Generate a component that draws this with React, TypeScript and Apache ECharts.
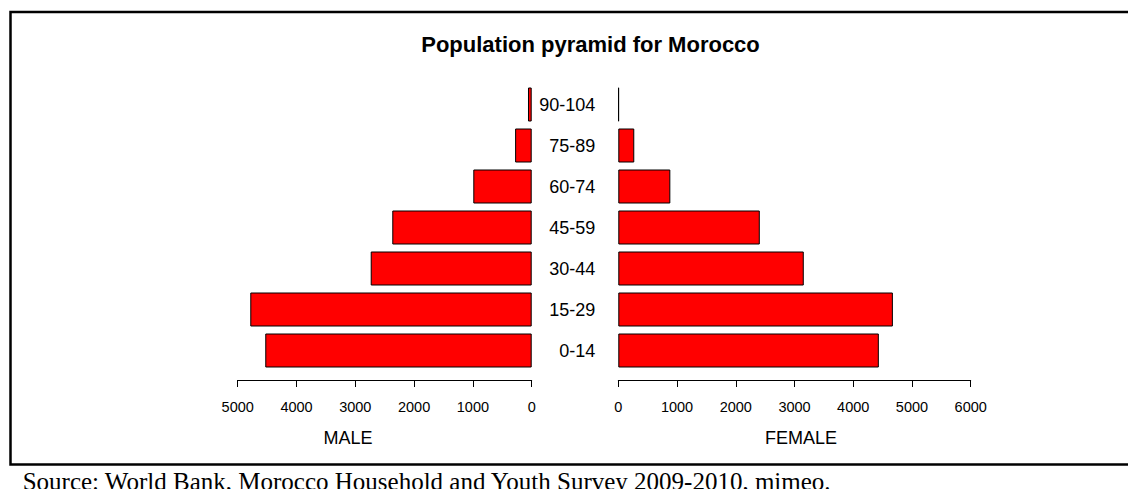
import React, { useEffect, useRef } from "react";
import * as echarts from "echarts";

const ageGroups = ["0-14", "15-29", "30-44", "45-59", "60-74", "75-89", "90-104"];
const maleValues = [4531, 4786, 2738, 2371, 993, 282, 63];
const femaleValues = [4436, 4675, 3158, 2409, 886, 272, 10];
const maleAxisMax = 5000;
const femaleAxisMax = 6000;
const tickStep = 1000;
const titleText = "Population pyramid for Morocco";
const maleLabel = "MALE";
const femaleLabel = "FEMALE";
const sourceText = "Source: World Bank, Morocco Household and Youth Survey 2009-2010, mimeo.";

const SANS = "'Liberation Sans', Arial, sans-serif";
const SERIF = "'Liberation Serif', 'Times New Roman', serif";

export default function App() {
  const ref = useRef<HTMLDivElement>(null);
  useEffect(() => {
    if (!ref.current) return;
    const chart = echarts.init(ref.current, undefined, { renderer: "svg" });
    const xAxisCommon = {
      type: "value" as const,
      min: 0,
      interval: tickStep,
      position: "bottom" as const,
      offset: 9,
      splitLine: { show: false },
      axisLine: { show: true, lineStyle: { color: "#000", width: 1 } },
      axisTick: { show: true, inside: false, length: 7, lineStyle: { color: "#000", width: 1 } },
      axisLabel: {
        color: "#000",
        fontSize: 14.5,
        fontFamily: SANS,
        margin: 19,
        formatter: (v: number) => String(v),
      },
    };
    const barStyle = { color: "#ff0000", borderColor: "#000", borderWidth: 1 };
    chart.setOption({
      animation: false,
      backgroundColor: "#fff",
      grid: [
        { left: 237.7, width: 294, top: 84, height: 287 },
        { left: 618.3, width: 352.4, top: 84, height: 287 },
      ],
      xAxis: [
        { ...xAxisCommon, gridIndex: 0, max: maleAxisMax, inverse: true },
        { ...xAxisCommon, gridIndex: 1, max: femaleAxisMax },
      ],
      yAxis: [
        {
          type: "category",
          gridIndex: 0,
          data: ageGroups,
          axisLine: { show: false },
          axisTick: { show: false },
          axisLabel: { show: false },
          splitLine: { show: false },
        },
        {
          type: "category",
          gridIndex: 1,
          data: ageGroups,
          axisLine: { show: false },
          axisTick: { show: false },
          axisLabel: { show: true, color: "#000", fontSize: 18, fontFamily: SANS, margin: 23 },
          splitLine: { show: false },
        },
      ],
      series: [
        {
          type: "bar",
          name: "Male",
          xAxisIndex: 0,
          yAxisIndex: 0,
          data: maleValues,
          barWidth: 34,
          itemStyle: barStyle,
        },
        {
          type: "bar",
          name: "Female",
          xAxisIndex: 1,
          yAxisIndex: 1,
          data: femaleValues,
          barWidth: 34,
          itemStyle: barStyle,
        },
      ],
      graphic: [
        {
          type: "rect",
          shape: { x: 10.5, y: 12, width: 1200, height: 452.5 },
          style: { fill: "none", stroke: "#000", lineWidth: 2.5 },
          silent: true,
        },
        {
          type: "text",
          x: 590.5,
          y: 44,
          style: {
            text: titleText,
            fill: "#000",
            font: `bold 22px ${SANS}`,
            textAlign: "center",
            textVerticalAlign: "middle",
          },
        },
        {
          type: "text",
          x: 348,
          y: 438,
          style: {
            text: maleLabel,
            fill: "#000",
            font: `18px ${SANS}`,
            textAlign: "center",
            textVerticalAlign: "middle",
          },
        },
        {
          type: "text",
          x: 801,
          y: 438,
          style: {
            text: femaleLabel,
            fill: "#000",
            font: `18px ${SANS}`,
            textAlign: "center",
            textVerticalAlign: "middle",
          },
        },
        {
          type: "text",
          x: 22.7,
          y: 481,
          style: {
            text: sourceText,
            fill: "#000",
            font: `25px ${SERIF}`,
            textAlign: "left",
            textVerticalAlign: "middle",
          },
        },
      ],
    });
    return () => chart.dispose();
  }, []);
  return (
    <div
      ref={ref}
      style={{ position: "fixed", left: 0, top: 0, width: 1128, height: 489 }}
    />
  );
}
